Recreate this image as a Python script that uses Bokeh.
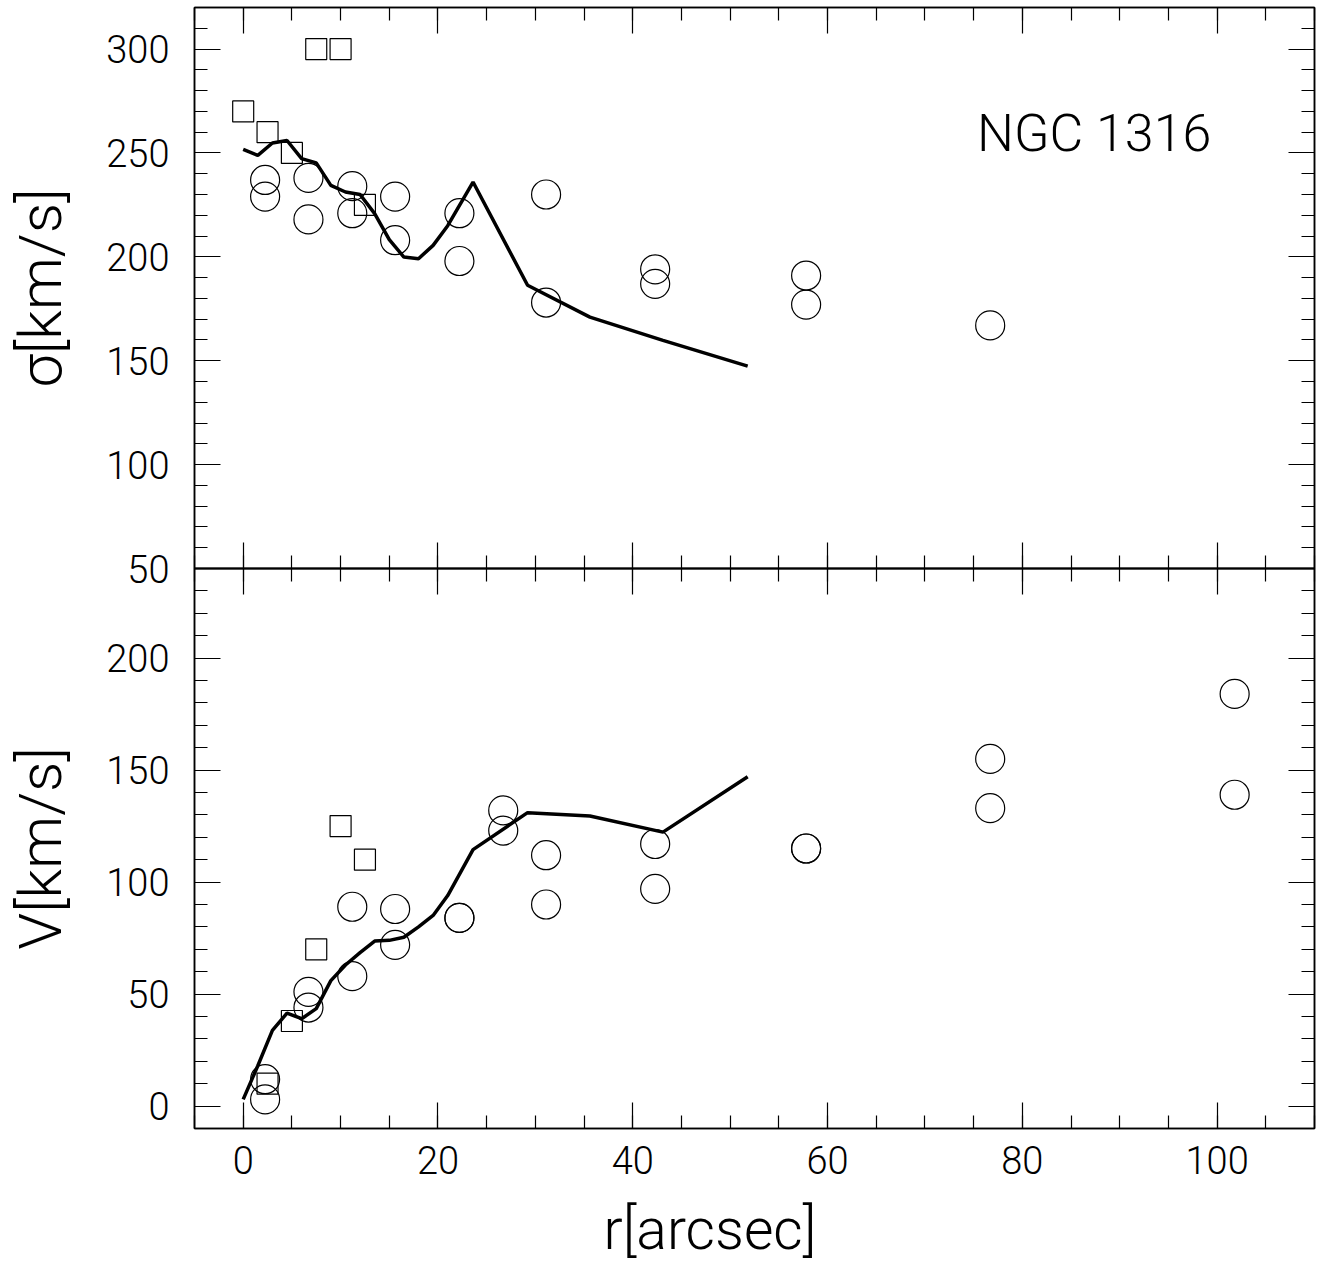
from bokeh.plotting import figure
from bokeh.layouts import column
from bokeh.models import (LinearAxis, SingleIntervalTicker, Range1d, Label,
                          Title, CustomJSTickFormatter)
from bokeh.embed import file_html
from bokeh.resources import INLINE

# ---------------- data ----------------
# velocity dispersion panel
r_sig_circ = [2.25, 2.25, 6.7, 6.7, 11.2, 11.2, 15.6, 15.6, 22.2, 22.2,
              31.1, 31.1, 42.3, 42.3, 57.8, 57.8, 76.7]
sig_circ = [237, 229, 238, 218, 234, 221, 229, 208, 221, 198,
            230, 178, 194, 187, 191, 177, 167]
r_sig_sq = [0, 2.5, 5, 7.5, 10, 12.5]
sig_sq = [270, 260, 250, 300, 300, 225]

# rotation velocity panel
r_v_circ = [2.25, 2.25, 6.7, 6.7, 11.2, 11.2, 15.6, 15.6, 22.2, 22.2, 26.7, 26.7,
            31.1, 31.1, 42.3, 42.3, 57.8, 57.8, 76.7, 76.7, 101.8, 101.8]
v_circ = [12, 3, 51, 44, 89, 58, 88, 72, 84, 84, 132, 123,
          112, 90, 117, 97, 115, 115, 155, 133, 184, 139]
r_v_sq = [2.5, 5, 7.5, 10, 12.5]
v_sq = [10, 38, 70, 125, 110]

# model curves
r_model = [0, 1.5, 3, 4.5, 6, 7.5, 9, 10.5, 12, 13.5, 15, 16.5, 18, 19.5, 21,
           23.6, 29.2, 35.6, 43.1, 51.8]
sig_model = [251.7, 248.8, 254.8, 256, 247.3, 245.2, 234.4, 231.2, 230, 220.8,
             208.3, 199.9, 199.1, 205.5, 215, 236, 186.3, 171, 159.8, 147.4]
v_model = [3, 18, 33.8, 41.5, 39, 43.5, 56, 63, 68.5, 73.7,
           74, 75.4, 80, 85.1, 94, 114.5, 131, 129.5, 122.3, 147]

X_RANGE = (-5, 110)
SIG_RANGE = (50, 320)
V_RANGE = (-10, 240)

FONT = "Roboto Light"
TICK_FS = "38px"
YLABEL_FS = "60px"
XLABEL_FS = "57px"
TITLE_FS = "52px"


def style_axis(ax, labels):
    ax.axis_line_color = "black"
    ax.axis_line_width = 1.5
    ax.major_tick_in = 26
    ax.major_tick_out = 0
    ax.minor_tick_in = 13
    ax.minor_tick_out = 0
    ax.major_tick_line_color = "black"
    ax.minor_tick_line_color = "black"
    ax.major_tick_line_width = 1.2
    ax.minor_tick_line_width = 1.2
    if labels:
        ax.major_label_text_font = FONT
        ax.major_label_text_font_size = TICK_FS
        ax.major_label_text_color = "black"
    else:
        ax.formatter = CustomJSTickFormatter(code="return ''")
        ax.major_label_standoff = 0


def make_fig(height, yr, top_border, bottom_border):
    p = figure(width=1325, height=height,
               x_range=Range1d(*X_RANGE), y_range=Range1d(*yr),
               x_axis_location=None, y_axis_location=None,
               toolbar_location=None, output_backend="svg",
               min_border_left=194, min_border_right=11,
               min_border_top=top_border, min_border_bottom=bottom_border)
    p.grid.grid_line_color = None
    p.outline_line_color = "black"
    p.outline_line_width = 1.5
    return p


def add_axes(p, x_labels, ylabel):
    xt = lambda: SingleIntervalTicker(interval=20, num_minor_ticks=4)
    yt = lambda: SingleIntervalTicker(interval=50, num_minor_ticks=5)
    top = LinearAxis(ticker=xt())
    style_axis(top, False)
    p.add_layout(top, "above")
    bottom = LinearAxis(ticker=xt())
    style_axis(bottom, x_labels)
    if x_labels:
        bottom.major_label_standoff = 17
    p.add_layout(bottom, "below")
    left = LinearAxis(ticker=yt())
    style_axis(left, True)
    left.major_label_standoff = 25
    left.axis_label = ylabel
    left.axis_label_text_font = FONT
    left.axis_label_text_font_size = YLABEL_FS
    left.axis_label_text_font_style = "normal"
    left.axis_label_text_color = "black"
    left.axis_label_standoff = 27
    p.add_layout(left, "left")
    right = LinearAxis(ticker=yt())
    style_axis(right, False)
    p.add_layout(right, "right")


# ---------------- top panel: sigma ----------------
p1 = make_fig(598, SIG_RANGE, 7, 30)
add_axes(p1, False, "σ[km/s]")
p1.line(r_model, sig_model, line_color="black", line_width=3.5)
p1.scatter(r_sig_circ, sig_circ, marker="circle", size=29,
           fill_color=None, line_color="black", line_width=1.2)
p1.scatter(r_sig_sq, sig_sq, marker="square", size=21,
           fill_color=None, line_color="black", line_width=1.2)
p1.add_layout(Label(x=75.35, y=259.4, text="NGC 1316", text_font=FONT,
                    text_font_size=TITLE_FS, text_baseline="alphabetic",
                    text_color="black"))

# ---------------- bottom panel: V ----------------
p2 = make_fig(743, V_RANGE, 30, 153)
p2.margin = (-60, 0, 0, 0)
p2.border_fill_color = None
p2.background_fill_color = None
add_axes(p2, True, "V[km/s]")
p2.line(r_model, v_model, line_color="black", line_width=3.5)
p2.scatter(r_v_circ, v_circ, marker="circle", size=29,
           fill_color=None, line_color="black", line_width=1.2)
p2.scatter(r_v_sq, v_sq, marker="square", size=21,
           fill_color=None, line_color="black", line_width=1.2)
p2.add_layout(Title(text="r[arcsec]", align="left", offset=409,
                    text_font=FONT, text_font_size=XLABEL_FS,
                    text_font_style="normal", text_color="black",
                    standoff=35), "below")

layout = column(p1, p2, spacing=0)
open("out.html", "w").write(file_html(layout, INLINE))
